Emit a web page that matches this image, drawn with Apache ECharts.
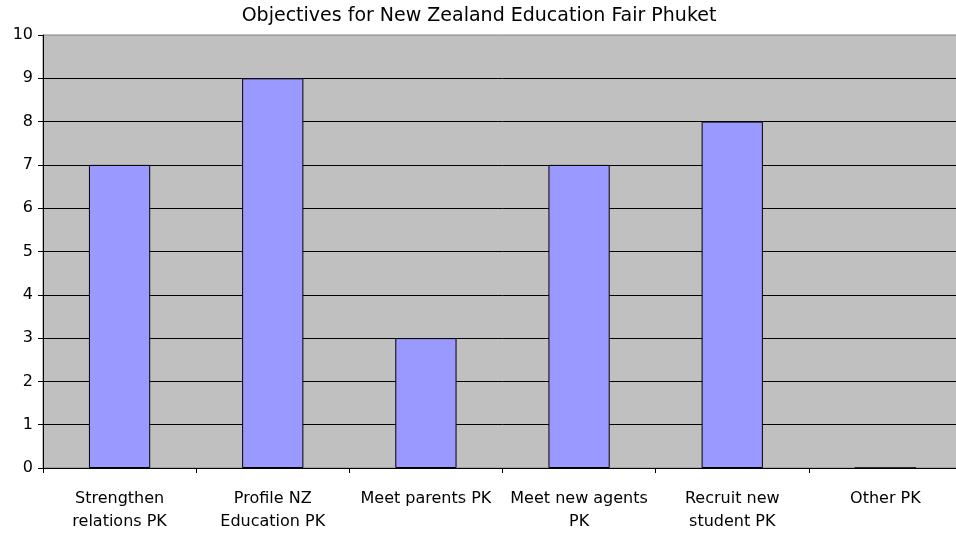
<!DOCTYPE html>
<html>
<head>
<meta charset="utf-8">
<script src="https://cdn.jsdelivr.net/npm/echarts@6/dist/echarts.min.js"></script>
<style>html,body{margin:0;padding:0;background:#fff;overflow:hidden;width:956px;height:535px;}#c{width:962px;height:535px;}</style>
</head>
<body>
<div id="c"></div>
<script>
const titleText = "Objectives for New Zealand Education Fair Phuket";
const categories = ["Strengthen\nrelations PK", "Profile NZ\nEducation PK", "Meet parents PK", "Meet new agents\nPK", "Recruit new\nstudent PK", "Other PK"];
const values = [7, 9, 3, 7, 8, 0];
const yMin = 0, yMax = 10, yStep = 1;

const FONT = "DejaVu Sans";
const chart = echarts.init(document.getElementById('c'), null, {renderer: 'canvas'});
chart.setOption({
  animation: false,
  backgroundColor: '#ffffff',
  title: {
    text: titleText,
    left: 474, top: 2,
    textAlign: 'center',
    textStyle: {fontFamily: FONT, fontSize: 19, fontWeight: 'normal', color: '#000'}
  },
  grid: {
    left: 43, top: 35, right: 0, bottom: 67,
    show: true, backgroundColor: '#C0C0C0', borderColor: '#808080', borderWidth: 1
  },
  xAxis: {
    type: 'category',
    data: categories,
    axisLine: {lineStyle: {color: '#000', width: 1}},
    axisTick: {show: true, length: 5, lineStyle: {color: '#000'}},
    axisLabel: {interval: 0, margin: 19, fontFamily: FONT, fontSize: 16, color: '#000', lineHeight: 23}
  },
  yAxis: {
    type: 'value',
    min: yMin, max: yMax, interval: yStep,
    axisLine: {show: true, lineStyle: {color: '#000', width: 1}},
    axisTick: {show: true, length: 5, lineStyle: {color: '#000'}},
    axisLabel: {margin: 10, fontFamily: FONT, fontSize: 16, color: '#000'},
    splitLine: {show: true, showMaxLine: false, lineStyle: {color: '#000', width: 1}}
  },
  series: [{
    type: 'bar',
    data: values,
    barWidth: '40%',
    itemStyle: {color: '#9999FF', borderColor: '#000', borderWidth: 1}
  }]
});
</script>
</body>
</html>
